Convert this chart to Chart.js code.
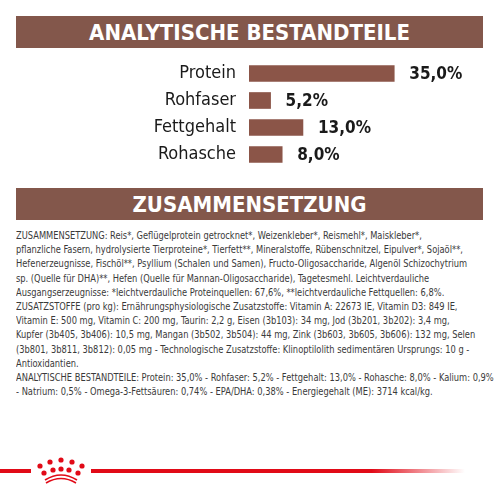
<!DOCTYPE html>
<html><head><meta charset="utf-8">
<script src="https://cdn.jsdelivr.net/npm/chart.js@4"></script>
<style>
body{margin:0;width:500px;height:500px;background:#fff;position:relative;overflow:hidden;font-family:"DejaVu Sans Condensed",sans-serif}
.band{position:absolute;left:16px;width:467px;height:32px;background:#83574b;color:#fff;font-weight:bold;font-size:22px;text-align:center;line-height:33px}
#wrap{position:absolute;left:0;top:60px;width:500px;height:108px}
#txt{position:absolute;left:16px;top:229px;font-family:"DejaVu Sans Condensed",sans-serif;font-size:11px;line-height:14.2px;color:#3a3a3a;white-space:pre;transform-origin:0 0}
.line{position:absolute;height:4px;top:469px;background:#e10a17}
</style></head><body>
<div class="band" style="top:16px">ANALYTISCHE BESTANDTEILE</div>
<div id="wrap"><canvas id="c"></canvas></div>
<div class="band" style="top:188px">ZUSAMMENSETZUNG</div>
<div id="txt"></div>
<div class="line" style="left:0;width:31px"></div>
<div class="line" style="left:91px;width:374px;background:linear-gradient(to right,#e10a17 75%,rgba(225,10,23,0))"></div>
<svg style="position:absolute;left:33px;top:455px" width="56" height="30" viewBox="0 0 56 30">
<g fill="#e10a17">
<circle cx="7" cy="11" r="2.6"/><circle cx="17" cy="7" r="2.6"/><circle cx="28" cy="5" r="2.6"/><circle cx="39" cy="7" r="2.6"/><circle cx="49" cy="11" r="2.6"/>
<circle cx="11" cy="18" r="2.6"/><circle cx="20" cy="15" r="2.6"/><circle cx="28" cy="14" r="2.6"/><circle cx="36" cy="15" r="2.6"/><circle cx="45" cy="18" r="2.6"/>
</g>
<path d="M12 25 Q28 15 44 25" stroke="#e10a17" stroke-width="1.6" fill="none"/>
<path d="M13 28 Q28 19 43 28" stroke="#e10a17" stroke-width="1.6" fill="none"/>
</svg>
<script>
// daten
const kategorien = ['Protein', 'Rohfaser', 'Fettgehalt', 'Rohasche']
const werte = [35.0, 5.2, 13.0, 8.0]
const zusammensetzung = [
    'ZUSAMMENSETZUNG: Reis*, Geflügelprotein getrocknet*, Weizenkleber*, Reismehl*, Maiskleber*,',
    'pflanzliche Fasern, hydrolysierte Tierproteine*, Tierfett**, Mineralstoffe, Rübenschnitzel, Eipulver*, Sojaöl**,',
    'Hefenerzeugnisse, Fischöl**, Psyllium (Schalen und Samen), Fructo-Oligosaccharide, Algenöl Schizochytrium',
    'sp. (Quelle für DHA)**, Hefen (Quelle für Mannan-Oligosaccharide), Tagetesmehl. Leichtverdauliche',
    'Ausgangserzeugnisse: *leichtverdauliche Proteinquellen: 67,6%, **leichtverdauliche Fettquellen: 6,8%.',
    'ZUSATZSTOFFE (pro kg): Ernährungsphysiologische Zusatzstoffe: Vitamin A: 22673 IE, Vitamin D3: 849 IE,',
    'Vitamin E: 500 mg, Vitamin C: 200 mg, Taurin: 2,2 g, Eisen (3b103): 34 mg, Jod (3b201, 3b202): 3,4 mg,',
    'Kupfer (3b405, 3b406): 10,5 mg, Mangan (3b502, 3b504): 44 mg, Zink (3b603, 3b605, 3b606): 132 mg, Selen',
    '(3b801, 3b811, 3b812): 0,05 mg - Technologische Zusatzstoffe: Klinoptilolith sedimentären Ursprungs: 10 g -',
    'Antioxidantien.',
    'ANALYTISCHE BESTANDTEILE: Protein: 35,0% - Rohfaser: 5,2% - Fettgehalt: 13,0% - Rohasche: 8,0% - Kalium: 0,9%',
    '- Natrium: 0,5% - Omega-3-Fettsäuren: 0,74% - EPA/DHA: 0,38% - Energiegehalt (ME): 3714 kcal/kg.'
]
let txt = document.querySelector('#txt')
txt.textContent = zusammensetzung.join('\n')
// text auf die breite des originals stauchen
txt.style.transform = `scaleX(${478 / txt.scrollWidth})`

// namen links und werte rechts neben den balken
const beschriftung = {
    id: 'beschriftung',
    afterDatasetsDraw(chart) {
        let ctx = chart.ctx
        ctx.save()
        ctx.fillStyle = '#1a1a1a'
        ctx.textBaseline = 'middle'
        chart.getDatasetMeta(0).data.forEach((bar, i) => {
            ctx.font = '18px "DejaVu Sans Condensed"'
            ctx.textAlign = 'right'
            ctx.fillText(kategorien[i], chart.chartArea.left - 13, bar.y)
            ctx.font = 'bold 17px "DejaVu Sans Condensed"'
            ctx.textAlign = 'left'
            ctx.fillText(werte[i].toFixed(1).replace('.', ',') + '%', bar.x + 15, bar.y + 1)
        })
        ctx.restore()
    }
}

new Chart(document.querySelector('#c'), {
    type: 'bar',
    data: {
        labels: kategorien,
        datasets: [{data: werte, backgroundColor: '#8b5548', barThickness: 16}]
    },
    options: {
        indexAxis: 'y',
        responsive: true,
        maintainAspectRatio: false,
        animation: false,
        layout: {padding: {left: 249, right: 2, top: 0, bottom: 0}},
        scales: {
            x: {min: 0, max: 60, display: false},
            y: {display: false}
        },
        plugins: {legend: {display: false}, tooltip: {enabled: false}}
    },
    plugins: [beschriftung]
})
</script>
</body></html>
